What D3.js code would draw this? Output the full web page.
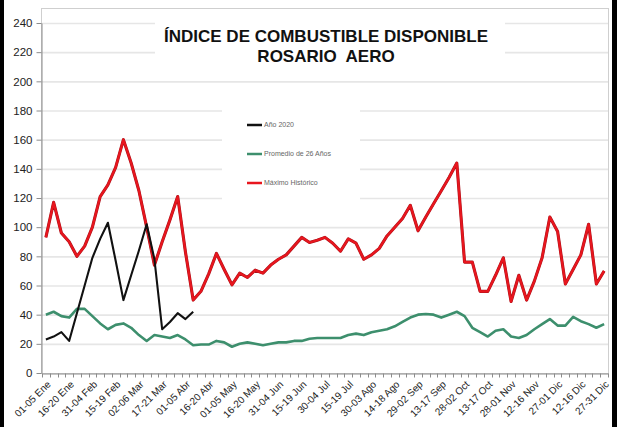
<!DOCTYPE html>
<html>
<head>
<meta charset="utf-8">
<script src="https://cdn.jsdelivr.net/npm/d3@7"></script>
<style>
	body { margin: 0; background: #fff; }
	svg { display: block; }
</style>
</head>
<body>
<svg id="svg_main" width="617" height="427"></svg>
<script>
// periodos de 5 dias
var periodos = ["01-05 Ene","06-10 Ene","11-15 Ene","16-20 Ene","21-25 Ene","26-30 Ene",
	"31-04 Feb","05-09 Feb","10-14 Feb","15-19 Feb","20-24 Feb","25-01 Mar",
	"02-06 Mar","07-11 Mar","12-16 Mar","17-21 Mar","22-26 Mar","27-31 Mar",
	"01-05 Abr","06-10 Abr","11-15 Abr","16-20 Abr","21-25 Abr","26-30 Abr",
	"01-05 May","06-10 May","11-15 May","16-20 May","21-25 May","26-30 May",
	"31-04 Jun","05-09 Jun","10-14 Jun","15-19 Jun","20-24 Jun","25-29 Jun",
	"30-04 Jul","05-09 Jul","10-14 Jul","15-19 Jul","20-24 Jul","25-29 Jul",
	"30-03 Ago","04-08 Ago","09-13 Ago","14-18 Ago","19-23 Ago","24-28 Ago",
	"29-02 Sep","03-07 Sep","08-12 Sep","13-17 Sep","18-22 Sep","23-27 Sep",
	"28-02 Oct","03-07 Oct","08-12 Oct","13-17 Oct","18-22 Oct","23-27 Oct",
	"28-01 Nov","02-06 Nov","07-11 Nov","12-16 Nov","17-21 Nov","22-26 Nov",
	"27-01 Dic","02-06 Dic","07-11 Dic","12-16 Dic","17-21 Dic","22-26 Dic",
	"27-31 Dic"];

// etiquetas visibles en el eje x
var tick_labels = ["01-05 Ene","16-20 Ene","31-04 Feb","15-19 Feb","02-06 Mar","17-21 Mar",
	"01-05 Abr","16-20 Abr","01-05 May","16-20 May","31-04 Jun","15-19 Jun","30-04 Jul",
	"15-19 Jul","30-03 Ago","14-18 Ago","29-02 Sep","13-17 Sep","28-02 Oct","13-17 Oct",
	"28-01 Nov","12-16 Nov","27-01 Dic","12-16 Dic","27-31 Dic"];

var y_ticks = [0, 20, 40, 60, 80, 100, 120, 140, 160, 180, 200, 220, 240];

var anio2020 = [23, 25, 28, 22, 41, 60, 79, 92, 103, 77, 50, 67, 84, 102, 78, 30, 35, 41, 37, 42];

var promedio = [40, 42, 39, 38, 44, 44, 39, 34, 30, 33, 34, 31, 26,
	22, 26, 25, 24, 26, 23, 19, 19.5, 19.5, 22, 21, 18,
	20, 21, 20, 19, 20, 21, 21, 22, 22, 23.5, 24, 24, 24,
	24, 26, 27, 26, 28, 29, 30, 32, 35, 38, 40, 40.5, 40,
	38, 40, 42, 39, 31, 28, 25, 29, 30, 25,
	24, 26, 30, 33.5, 37, 32.5, 32.5, 38.5, 35.5, 33.5, 31, 33.5];

var maximo = [93, 117, 96, 90, 80, 87, 100, 121, 129, 141, 160, 144, 125,
	100, 74, 90, 105, 121, 83, 50, 56, 68, 82, 71, 60.5,
	68.5, 65.5, 70.5, 68.5, 74, 78, 81, 87, 93, 89.5, 91, 93, 89,
	83.5, 92, 89, 78, 81, 85.5, 94, 100, 106, 115, 97.5, 107, 116,
	125, 134, 144, 76, 76, 56, 56, 67, 79, 49,
	67, 50, 63, 79, 107, 97, 61, 71, 81, 102, 61, 70];

var series = [
	{ name: "Máximo Histórico", values: maximo, color: "#e8161e", width: 2.2 },
	{ name: "Promedio de 26 Años", values: promedio, color: "#3d8f6d", width: 2.6 },
	{ name: "Año 2020", values: anio2020, color: "#111111", width: 2.1 }
];
var legend_order = ["Año 2020", "Promedio de 26 Años", "Máximo Histórico"];

var font = "'Liberation Sans', Arial, sans-serif";
var svg = d3.select("#svg_main");

var plot = { left: 41, right: 608, top: 8, bottom: 373 };

var x = d3.scaleBand().domain(periodos).range([plot.left + 1, plot.right]);
var y = d3.scaleLinear().domain([0, 240]).range([373, 23]);

svg.append("rect")
	.attr("width", 617).attr("height", 427)
	.attr("fill", "#fff");

// grilla
svg.append("g")
	.attr("class", "grid")
	.selectAll("line")
	.data(y_ticks.filter(d => d > 0))
	.enter().append("line")
	.attr("x1", plot.left).attr("x2", plot.right)
	.attr("y1", d => y(d) + 0.5).attr("y2", d => y(d) + 0.5)
	.attr("stroke", "#e6e6e6")
	.attr("stroke-width", 1.6);

// borde del area
svg.append("rect")
	.attr("x", plot.left + 0.5).attr("y", plot.top + 0.5)
	.attr("width", plot.right - plot.left).attr("height", plot.bottom - plot.top)
	.attr("fill", "none")
	.attr("stroke", "#cfcfcf");

// fondo blanco del titulo y la leyenda
svg.append("rect").attr("x", 155).attr("y", 14).attr("width", 350).attr("height", 58).attr("fill", "#fff");
svg.append("rect").attr("x", 222).attr("y", 98).attr("width", 138).attr("height", 110).attr("fill", "#fff");

// eje y
var yAxis = d3.axisLeft(y).tickValues(y_ticks).tickSize(5).tickSizeOuter(0);
var gy = svg.append("g")
	.attr("transform", `translate(${plot.left + 0.5}, 0)`)
	.call(yAxis);
gy.select(".domain").attr("stroke", "#8c8c8c");
gy.selectAll(".tick line").attr("stroke", "#8c8c8c");
gy.selectAll(".tick text")
	.attr("x", -9)
	.attr("fill", "#222")
	.style("font-family", font)
	.style("font-size", "11.5px");

// eje x
var xAxis = d3.axisBottom(x).tickSize(0).tickFormat("");
var gx = svg.append("g")
	.attr("transform", `translate(0, ${plot.bottom + 0.5})`)
	.call(xAxis);
gx.select(".domain").attr("stroke", "#8c8c8c");
gx.selectAll(".tick").remove();

// marcas entre categorias
gx.selectAll(".sep")
	.data(periodos.concat(["fin"]))
	.enter().append("line")
	.attr("class", "sep")
	.attr("x1", (d, i) => Math.round(x.range()[0] + i * x.step()) + 0.5)
	.attr("x2", (d, i) => Math.round(x.range()[0] + i * x.step()) + 0.5)
	.attr("y1", 0).attr("y2", 4)
	.attr("stroke", "#8c8c8c");

gx.selectAll(".lbl")
	.data(tick_labels)
	.enter().append("text")
	.attr("class", "lbl")
	.attr("transform", d => `translate(${x(d) + x.bandwidth() / 2 + 3}, 9) rotate(-45)`)
	.attr("text-anchor", "end")
	.attr("dy", "0.35em")
	.attr("fill", "#222")
	.style("font-family", font)
	.style("font-size", "10px")
	.text(d => d);

// lineas
var line = d3.line()
	.x((d, i) => x(periodos[i]) + x.bandwidth() / 2)
	.y(d => y(d));

for (let s of series) {
	if (s.name == "Máximo Histórico")
		svg.append("path")
			.attr("d", line(s.values))
			.attr("fill", "none")
			.attr("stroke", "#a8121a")
			.attr("stroke-width", s.width + 0.9)
			.attr("stroke-linejoin", "round");
	svg.append("path")
		.attr("d", line(s.values))
		.attr("fill", "none")
		.attr("stroke", s.color)
		.attr("stroke-width", s.width)
		.attr("stroke-linejoin", "round");
}

// leyenda
var legend = svg.append("g").attr("class", "legend");
legend_order.forEach((name, i) => {
	let s = series.find(e => e.name == name);
	let ly = 125 + i * 29;
	legend.append("line")
		.attr("x1", 247).attr("x2", 262)
		.attr("y1", ly).attr("y2", ly)
		.attr("stroke", s.color)
		.attr("stroke-width", 2.5);
	legend.append("text")
		.attr("x", 264)
		.attr("y", ly)
		.attr("dy", "0.35em")
		.attr("fill", "#666")
		.style("font-family", font)
		.style("font-size", "7px")
		.text(name);
});

// titulo
var title = svg.append("g").attr("class", "title");
title.append("text")
	.attr("x", 326).attr("y", 42)
	.attr("text-anchor", "middle")
	.attr("font-weight", "bold")
	.attr("fill", "#111")
	.style("font-family", font)
	.style("font-size", "17px")
	.text("ÍNDICE DE COMBUSTIBLE DISPONIBLE");
title.append("text")
	.attr("x", 326).attr("y", 62)
	.attr("text-anchor", "middle")
	.attr("font-weight", "bold")
	.attr("fill", "#111")
	.style("font-family", font)
	.style("font-size", "17px")
	.style("white-space", "pre")
	.text("ROSARIO  AERO");

// marco negro
svg.append("rect").attr("x", 0).attr("y", 0).attr("width", 4).attr("height", 427).attr("fill", "#000");
svg.append("rect").attr("x", 612).attr("y", 0).attr("width", 5).attr("height", 427).attr("fill", "#000");
</script>
</body>
</html>
